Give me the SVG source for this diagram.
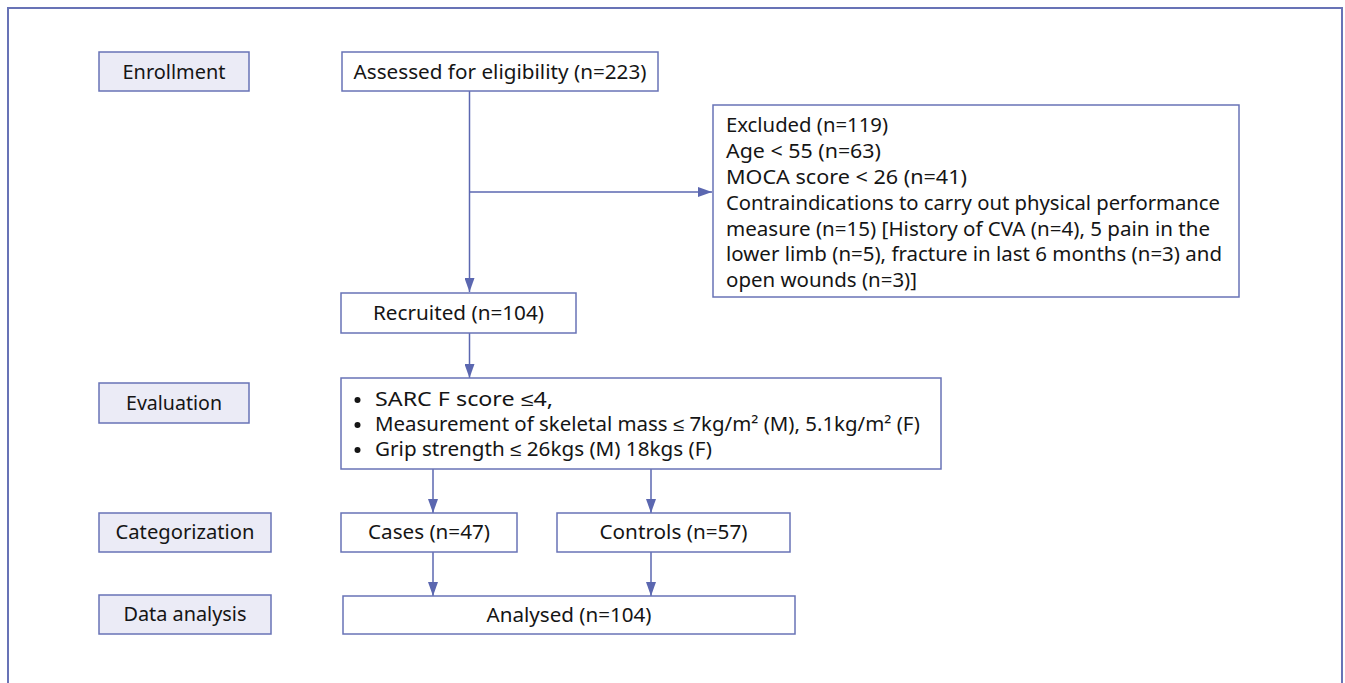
<svg xmlns="http://www.w3.org/2000/svg" width="1345" height="683" viewBox="0 0 1345 683">
<defs>
<style>
.frame{fill:none;stroke:#6873b6;stroke-width:2}
.box{fill:#ffffff;stroke:#6873b6;stroke-width:1.5}
.lbl{fill:#ebebf6;stroke:#6873b6;stroke-width:1.5}
.t{font-family:"Noto Sans","Liberation Sans",sans-serif;font-size:19px;fill:#151515}
.c{text-anchor:middle}
.bul{fill:#151515}
.conn{fill:none;stroke:#5b67b0;stroke-width:1.5}
</style>
<marker id="ah" viewBox="0 0 14 10" refX="14" refY="5" markerWidth="14" markerHeight="10" markerUnits="userSpaceOnUse" orient="auto">
<path d="M0,0 L14,5 L0,10 Z" fill="#5b67b0"/>
</marker>
</defs>
<rect width="1345" height="683" fill="#ffffff"/>
<rect class="frame" x="8" y="8" width="1334" height="700"/>

<g id="connectors">
<path class="conn" d="M469.5,91 V292" marker-end="url(#ah)"/>
<path class="conn" d="M469.5,192 H712" marker-end="url(#ah)"/>
<path class="conn" d="M469.5,333 V378" marker-end="url(#ah)"/>
<path class="conn" d="M433,469 V513" marker-end="url(#ah)"/>
<path class="conn" d="M651,469 V513" marker-end="url(#ah)"/>
<path class="conn" d="M433,552 V596" marker-end="url(#ah)"/>
<path class="conn" d="M651,552 V596" marker-end="url(#ah)"/>
</g>

<g id="enrollment">
<rect class="lbl" x="99" y="52" width="150" height="39"/>
<text class="t c" x="174" y="79" textLength="103" lengthAdjust="spacingAndGlyphs">Enrollment</text>
</g>
<g id="assessed">
<rect class="box" x="342" y="52" width="316" height="39"/>
<text class="t c" x="500" y="79" textLength="293" lengthAdjust="spacingAndGlyphs">Assessed for eligibility (n=223)</text>
</g>
<g id="excluded">
<rect class="box" x="713" y="105" width="526" height="192"/>
<text class="t" x="726" y="132" textLength="162" lengthAdjust="spacingAndGlyphs">Excluded (n=119)</text>
<text class="t" x="726" y="158" textLength="155" lengthAdjust="spacingAndGlyphs">Age &lt; 55 (n=63)</text>
<text class="t" x="726" y="184" textLength="241" lengthAdjust="spacingAndGlyphs">MOCA score &lt; 26 (n=41)</text>
<text class="t" x="726" y="210" textLength="494" lengthAdjust="spacingAndGlyphs">Contraindications to carry out physical performance</text>
<text class="t" x="726" y="235.5" textLength="484" lengthAdjust="spacingAndGlyphs">measure (n=15) [History of CVA (n=4), 5 pain in the</text>
<text class="t" x="726" y="261" textLength="496" lengthAdjust="spacingAndGlyphs">lower limb (n=5), fracture in last 6 months (n=3) and</text>
<text class="t" x="726" y="287" textLength="191" lengthAdjust="spacingAndGlyphs">open wounds (n=3)]</text>
</g>
<g id="recruited">
<rect class="box" x="341" y="293" width="235" height="40"/>
<text class="t c" x="458.5" y="320" textLength="171" lengthAdjust="spacingAndGlyphs">Recruited (n=104)</text>
</g>
<g id="evaluation-label">
<rect class="lbl" x="99" y="383" width="150" height="40"/>
<text class="t c" x="174" y="410" textLength="96" lengthAdjust="spacingAndGlyphs">Evaluation</text>
</g>
<g id="evaluation">
<rect class="box" x="341" y="378" width="600" height="91"/>
<circle class="bul" cx="357.5" cy="400" r="3"/>
<text class="t" x="375" y="406" textLength="178" lengthAdjust="spacingAndGlyphs">SARC F score ≤4,</text>
<circle class="bul" cx="357.5" cy="425" r="3"/>
<text class="t" x="375" y="431" textLength="545" lengthAdjust="spacingAndGlyphs">Measurement of skeletal mass ≤ 7kg/m² (M), 5.1kg/m² (F)</text>
<circle class="bul" cx="357.5" cy="450" r="3"/>
<text class="t" x="375" y="456" textLength="337" lengthAdjust="spacingAndGlyphs">Grip strength ≤ 26kgs (M) 18kgs (F)</text>
</g>
<g id="categorization-label">
<rect class="lbl" x="99" y="513" width="172" height="39"/>
<text class="t c" x="185" y="539" textLength="139" lengthAdjust="spacingAndGlyphs">Categorization</text>
</g>
<g id="cases">
<rect class="box" x="341" y="513" width="176" height="39"/>
<text class="t c" x="429" y="539" textLength="122" lengthAdjust="spacingAndGlyphs">Cases (n=47)</text>
</g>
<g id="controls">
<rect class="box" x="557" y="513" width="233" height="39"/>
<text class="t c" x="673.5" y="539" textLength="148" lengthAdjust="spacingAndGlyphs">Controls (n=57)</text>
</g>
<g id="data-analysis-label">
<rect class="lbl" x="99" y="595" width="172" height="39"/>
<text class="t c" x="185" y="621" textLength="123" lengthAdjust="spacingAndGlyphs">Data analysis</text>
</g>
<g id="analysed">
<rect class="box" x="343" y="596" width="452" height="38"/>
<text class="t c" x="569" y="622" textLength="165" lengthAdjust="spacingAndGlyphs">Analysed (n=104)</text>
</g>
</svg>
